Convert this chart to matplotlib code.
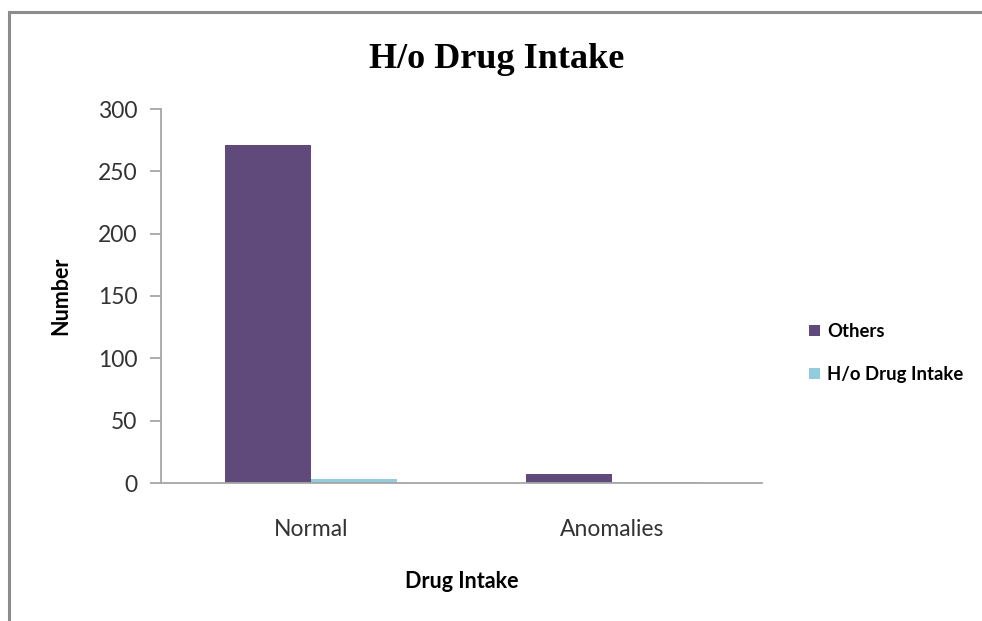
import matplotlib.pyplot as plt
import numpy as np
from matplotlib.patches import Rectangle

categories = ['Normal', 'Anomalies']
others = [271, 7]
drug_intake = [3, 1]
series_names = ['Others', 'H/o Drug Intake']
yticks = [0, 50, 100, 150, 200, 250, 300]

fig = plt.figure(figsize=(9.82, 6.21), dpi=100)
# outer chart frame (right/bottom edges run off the image)
fig.patches.append(Rectangle((9 / 982, -0.1), 1.2, 1.1 - 12 / 621,
                             transform=fig.transFigure, fill=False,
                             edgecolor='#8c8c8c', linewidth=2.2))

ax = fig.add_axes([161 / 982, 1 - 483 / 621, (762 - 161) / 982, (483 - 109) / 621])
x = np.arange(len(categories))
w = 0.286
ax.bar(x - w / 2, others, w, color='#604a7b', label=series_names[0])
ax.bar(x + w / 2, drug_intake, w, color='#93cddd', label=series_names[1])

ax.set_xlim(-0.5, 1.5)
ax.set_ylim(0, 300)
ax.set_yticks(yticks)
ax.set_xticks(x)
ax.set_xticklabels(categories)
for s in ['top', 'right']:
    ax.spines[s].set_visible(False)
for s in ['left', 'bottom']:
    ax.spines[s].set_color('#a6a6a6')
    ax.spines[s].set_linewidth(1.3)
ax.tick_params(axis='y', length=8, color='#a6a6a6', width=1.3, labelsize=16.5,
               labelcolor='#333333', pad=9)
ax.tick_params(axis='x', length=0, labelsize=16.5, labelcolor='#333333', pad=26)
for lab in ax.get_xticklabels() + ax.get_yticklabels():
    lab.set_family('Lato')

ax.set_ylabel('Number', fontsize=15.5, fontweight='bold', family='Lato', labelpad=19)
ax.set_xlabel('Drug Intake', fontsize=15.5, fontweight='bold', family='Lato', labelpad=22)
fig.text(497 / 982, 1 - 59 / 621, 'H/o Drug Intake', ha='center', va='center',
         fontsize=26, fontweight='bold', family='Liberation Serif')

ax.legend(loc='center left', bbox_to_anchor=(792 / 982, 1 - 353 / 621),
          bbox_transform=fig.transFigure, frameon=False, handlelength=0.6,
          handleheight=0.6, handletextpad=0.4, labelspacing=1.4,
          prop={'family': 'Lato', 'weight': 'bold', 'size': 13.3})

plt.savefig('out.png', dpi=100)
